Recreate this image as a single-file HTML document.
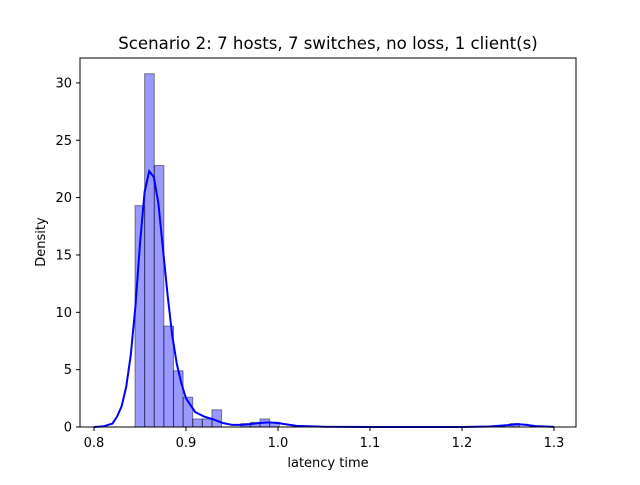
<!DOCTYPE html>
<html><head><meta charset="utf-8"><style>
body{margin:0;background:#fff;font-family:"Liberation Sans","DejaVu Sans",sans-serif}
svg text{font-family:"DejaVu Sans","Liberation Sans",sans-serif;fill:#000}
</style></head><body>
<svg id="c" width="640" height="480" xmlns="http://www.w3.org/2000/svg">
<rect width="640" height="480" fill="#fff"/>
<text x="328" y="49" font-size="16.6" text-anchor="middle">Scenario 2: 7 hosts, 7 switches, no loss, 1 client(s)</text>
<g id="bars"></g>
<path id="kde" fill="none" stroke="#0000ff" stroke-width="2"/>
<rect x="80" y="58" width="496" height="369" fill="none" stroke="#000" stroke-width="1"/>
<g id="ax"></g>
<text x="328" y="467" font-size="13" text-anchor="middle">latency time</text>
<text transform="translate(45,242) rotate(-90)" font-size="13" text-anchor="middle">Density</text>
</svg>
<script>
const binStart = 0.8446;
const binWidth = 0.01045;
const densities = [19.3,30.8,22.8,8.8,4.9,2.6,0.7,0.7,1.5,0,0,0.3,0.4,0.7,0.4,0,0,0,0,0,0,0,0,0,0,0,0,0,0,0,0,0,0,0,0,0,0,0,0,0.3];
const kdeX = [0.80,0.81,0.82,0.825,0.83,0.835,0.84,0.845,0.85,0.855,0.86,0.865,0.87,0.875,0.88,0.885,0.89,0.895,0.90,0.91,0.92,0.93,0.94,0.95,0.96,0.97,0.98,0.99,1.00,1.01,1.02,1.05,1.1,1.2,1.23,1.25,1.26,1.27,1.28,1.30];
const kdeY = [0,0.05,0.3,0.9,1.8,3.5,6.3,10.5,16,20.5,22.3,21.8,19.5,15.5,11.5,8,5.5,3.8,2.5,1.3,0.9,0.65,0.35,0.18,0.18,0.25,0.35,0.4,0.35,0.22,0.1,0.02,0,0,0.04,0.17,0.25,0.18,0.08,0.01];
const xTicks = [0.8,0.9,1.0,1.1,1.2,1.3];
const xTickLabels = ["0.8","0.9","1.0","1.1","1.2","1.3"];
const yTicks = [0,5,10,15,20,25,30];
const NS="http://www.w3.org/2000/svg";
const X = v => 94 + (v-0.8)*920;
const Y = v => 427 - v*11.47;
const bars=document.getElementById('bars');
densities.forEach((d,i)=>{
  if(d<=0) return;
  const r=document.createElementNS(NS,'rect');
  const x0=X(binStart+i*binWidth), x1=X(binStart+(i+1)*binWidth);
  r.setAttribute('x',x0);r.setAttribute('width',x1-x0);
  r.setAttribute('y',Y(d));r.setAttribute('height',Y(0)-Y(d));
  r.setAttribute('fill','rgba(0,0,255,0.4)');r.setAttribute('stroke','rgba(0,0,0,0.45)');r.setAttribute('stroke-width','1');
  
  
  bars.appendChild(r);
});
let p='';
kdeX.forEach((x,i)=>{p+=(i?'L':'M')+X(x).toFixed(1)+','+Y(kdeY[i]).toFixed(1);});
document.getElementById('kde').setAttribute('d',p);
const ax=document.getElementById('ax');
xTicks.forEach((t,i)=>{
  const l=document.createElementNS(NS,'line');
  l.setAttribute('x1',X(t));l.setAttribute('x2',X(t));l.setAttribute('y1',427);l.setAttribute('y2',431);l.setAttribute('stroke','#000');
  
  
  ax.appendChild(l);
  const tx=document.createElementNS(NS,'text');
  tx.setAttribute('x',X(t));tx.setAttribute('y',447);tx.setAttribute('font-size','13');tx.setAttribute('text-anchor','middle');
  tx.textContent=xTickLabels[i];
  
  
  ax.appendChild(tx);
});
yTicks.forEach(t=>{
  const l=document.createElementNS(NS,'line');
  l.setAttribute('x1',76);l.setAttribute('x2',80);l.setAttribute('y1',Y(t));l.setAttribute('y2',Y(t));l.setAttribute('stroke','#000');
  
  
  ax.appendChild(l);
  const tx=document.createElementNS(NS,'text');
  tx.setAttribute('x',72);tx.setAttribute('y',Y(t)+4.5);tx.setAttribute('font-size','13');tx.setAttribute('text-anchor','end');
  tx.textContent=String(t);
  
  
  ax.appendChild(tx);
});
</script>
</body></html>
